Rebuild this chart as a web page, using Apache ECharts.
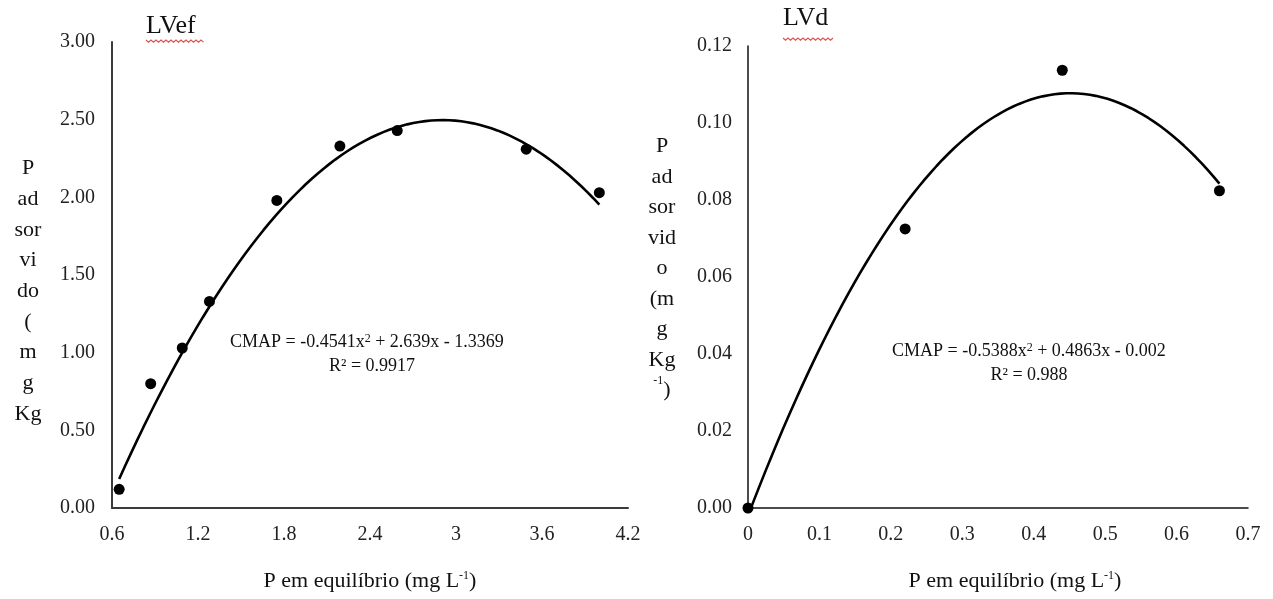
<!DOCTYPE html>
<html>
<head>
<meta charset="utf-8">
<script src="https://cdn.jsdelivr.net/npm/echarts@6/dist/echarts.min.js"></script>
<style>
html, body { margin: 0; padding: 0; background: #fff; }
#chart { width: 1273px; height: 599px; }
</style>
</head>
<body>
<div id="chart"></div>
<script>
// LVef panel
const lvefX = [0.65, 0.87, 1.09, 1.28, 1.75, 2.19, 2.59, 3.49, 4.0];
const lvefY = [0.12, 0.80, 1.03, 1.33, 1.98, 2.33, 2.43, 2.31, 2.03];
const lvefFit = [-0.4541, 2.639, -1.3369];
const lvefXTicks = ['0.6', '1.2', '1.8', '2.4', '3', '3.6', '4.2'];
const lvefYTicks = ['0.00', '0.50', '1.00', '1.50', '2.00', '2.50', '3.00'];

// LVd panel
const lvdX = [0, 0.22, 0.44, 0.66];
const lvdY = [0, 0.0725, 0.1137, 0.0824];
const lvdFit = [-0.5388, 0.4863, -0.002];
const lvdXTicks = ['0', '0.1', '0.2', '0.3', '0.4', '0.5', '0.6', '0.7'];
const lvdYTicks = ['0.00', '0.02', '0.04', '0.06', '0.08', '0.10', '0.12'];

const serif = '"Liberation Serif", "DejaVu Serif", serif';
const sup = { fontSize: 12, fontFamily: serif, lineHeight: 12, verticalAlign: 'top', color: '#111' };

// trendline from the printed regression coefficients, over the data range
function trend(coef, xs) {
    const lo = Math.min(...xs), hi = Math.max(...xs);
    const pts = [];
    for (let i = 0; i <= 80; i++) {
        const x = lo + (hi - lo) * i / 80;
        pts.push([x, coef[0] * x * x + coef[1] * x + coef[2]]);
    }
    return pts;
}

function valueAxis(ticks, idx, extra) {
    const first = +ticks[0], last = +ticks[ticks.length - 1];
    return Object.assign({
        type: 'value',
        gridIndex: idx,
        min: first,
        max: last,
        interval: +(ticks[1] - ticks[0]).toFixed(4),
        splitLine: { show: false },
        axisTick: { show: false },
        axisLine: { show: true, lineStyle: { color: '#3a3a3a', width: 2 } },
        axisLabel: {
            color: '#222',
            fontFamily: serif,
            fontSize: 20,
            margin: 17,
            formatter: v => String(+v.toFixed(1))
        }
    }, extra || {});
}

function wavy(x0, x1, y) {
    const pts = [];
    for (let x = x0, k = 0; x <= x1; x += 2.5, k++) {
        pts.push([x, y + (k % 2 ? 2.2 : 0)]);
    }
    return {
        type: 'polyline',
        shape: { points: pts },
        style: { stroke: '#d9534f', lineWidth: 1.1, fill: null }
    };
}

const xName = 'P em equilíbrio (mg L{s|-1})';
const xNameStyle = {
    color: '#111',
    fontFamily: serif,
    fontSize: 22,
    rich: { s: sup }
};
const yLabel = margin => ({ color: '#222', fontFamily: serif, fontSize: 20, margin: margin, formatter: v => v.toFixed(2) });
const eqSup = { fontSize: 12, fontFamily: serif, lineHeight: 10, verticalAlign: 'top' };

const chart = echarts.init(document.getElementById('chart'));
chart.setOption({
    backgroundColor: '#fff',
    animation: false,
    grid: [
        { left: 112, top: 42, width: 516, height: 466 },
        { left: 748, top: 46, width: 500, height: 462 }
    ],
    xAxis: [
        valueAxis(lvefXTicks, 0, {
            name: xName, nameLocation: 'middle', nameGap: 62, nameTextStyle: xNameStyle
        }),
        valueAxis(lvdXTicks, 1, {
            name: xName, nameLocation: 'middle', nameGap: 62,
            nameTextStyle: Object.assign({ padding: [0, 0, 0, 34] }, xNameStyle),
            axisLine: { show: true, lineStyle: { color: '#111', width: 1.5 } }
        })
    ],
    yAxis: [
        valueAxis(lvefYTicks, 0, { axisLabel: yLabel(17) }),
        valueAxis(lvdYTicks, 1, {
            axisLabel: yLabel(16),
            axisLine: { show: true, lineStyle: { color: '#111', width: 1.5 } }
        })
    ],
    series: [
        {
            type: 'line', xAxisIndex: 0, yAxisIndex: 0,
            data: trend(lvefFit, lvefX),
            showSymbol: false, lineStyle: { color: '#000', width: 2.6 }
        },
        {
            type: 'scatter', xAxisIndex: 0, yAxisIndex: 0,
            data: lvefX.map((x, i) => [x, lvefY[i]]),
            symbolSize: 11, itemStyle: { color: '#000', opacity: 1 }
        },
        {
            type: 'line', xAxisIndex: 1, yAxisIndex: 1,
            data: trend(lvdFit, lvdX),
            showSymbol: false, lineStyle: { color: '#000', width: 2.6 }
        },
        {
            type: 'scatter', xAxisIndex: 1, yAxisIndex: 1,
            data: lvdX.map((x, i) => [x, lvdY[i]]),
            symbolSize: 11, itemStyle: { color: '#000', opacity: 1 }
        }
    ],
    graphic: [
        { type: 'text', left: 146, top: 13, style: { text: 'LVef', font: '26px ' + serif, fill: '#111' } },
        wavy(146, 204, 40),
        { type: 'text', left: 783, top: 5, style: { text: 'LVd', font: '26px ' + serif, fill: '#111' } },
        wavy(783, 835, 38),
        {
            type: 'text', x: 28, y: 153,
            style: {
                text: 'P\nad\nsor\nvi\ndo\n(\nm\ng\nKg',
                font: '22px ' + serif, lineHeight: 30.7, align: 'center', verticalAlign: 'top', fill: '#111'
            }
        },
        {
            type: 'text', x: 662, y: 131,
            style: {
                text: 'P\nad\nsor\nvid\no\n(m\ng\nKg\n{s|-1}{n|)}',
                font: '22px ' + serif, lineHeight: 30.5, align: 'center', verticalAlign: 'top', fill: '#111',
                rich: { s: sup, n: { fontSize: 22, fontFamily: serif, lineHeight: 30.5, color: '#111' } }
            }
        },
        {
            type: 'text', x: 230, y: 342,
            style: {
                text: 'CMAP = -0.4541x{s|2} + 2.639x - 1.3369',
                font: '18px ' + serif, verticalAlign: 'middle', fill: '#111',
                rich: { s: eqSup }
            }
        },
        {
            type: 'text', x: 372, y: 366,
            style: { text: 'R² = 0.9917', font: '18px ' + serif, align: 'center', verticalAlign: 'middle', fill: '#111' }
        },
        {
            type: 'text', x: 892, y: 351,
            style: {
                text: 'CMAP = -0.5388x{s|2} + 0.4863x - 0.002',
                font: '18px ' + serif, verticalAlign: 'middle', fill: '#111',
                rich: { s: eqSup }
            }
        },
        {
            type: 'text', x: 1029, y: 375,
            style: { text: 'R² = 0.988', font: '18px ' + serif, align: 'center', verticalAlign: 'middle', fill: '#111' }
        }
    ]
});
</script>
</body>
</html>
